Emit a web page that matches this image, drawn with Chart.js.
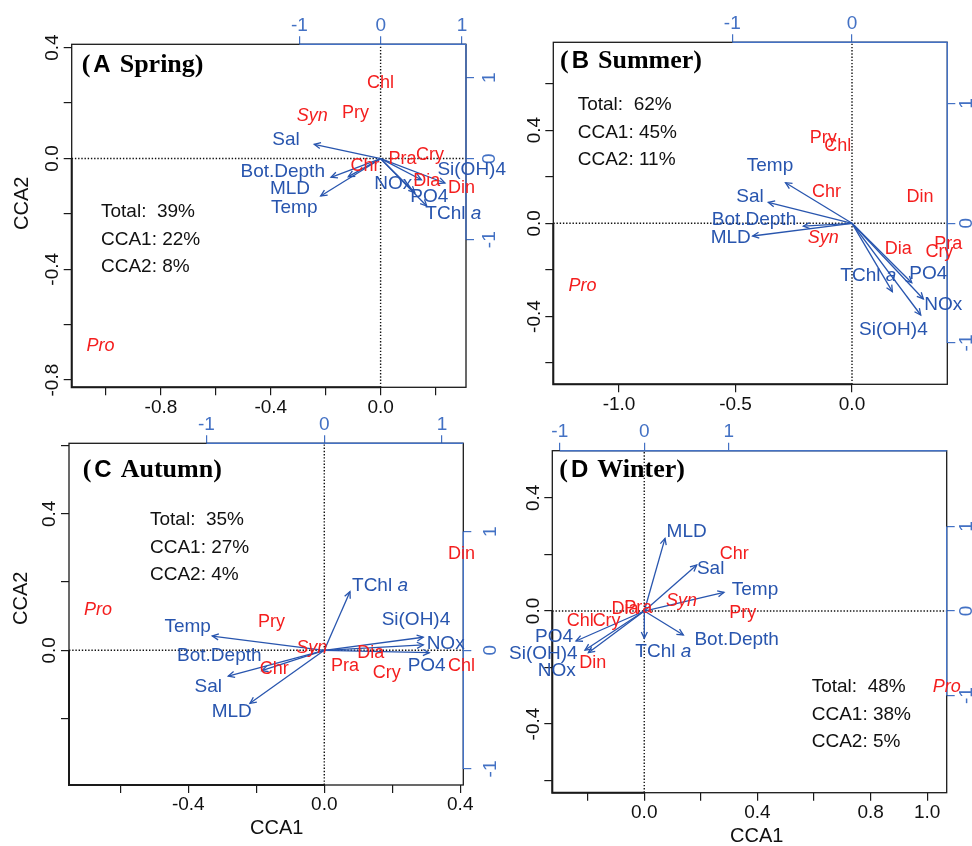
<!DOCTYPE html>
<html>
<head>
<meta charset="utf-8">
<title>CCA biplots by season</title>
<script src="https://cdn.jsdelivr.net/npm/chart.js@4.4.1/dist/chart.umd.min.js"></script>
<style>
  html, body { margin: 0; padding: 0; background: #fff; }
  body { position: relative; width: 972px; height: 846px; overflow: hidden; }
  canvas { position: absolute; }
</style>
</head>
<body>
<canvas id="spring"></canvas>
<canvas id="summer"></canvas>
<canvas id="autumn"></canvas>
<canvas id="winter"></canvas>
<script>
// CCA of phytoplankton groups vs environment, one biplot per season.
// Species scores use the bottom/left axes, env arrows use the blue top/right axes.

const species = ['Pro', 'Syn', 'Chl', 'Pry', 'Chr', 'Pra', 'Cry', 'Dia', 'Din'];
const italicSpecies = ['Pro', 'Syn'];
const envVars = ['Temp', 'Sal', 'Bot.Depth', 'MLD', 'NOx', 'PO4', 'Si(OH)4', 'TChl a'];
const statNames = ['Total:  ', 'CCA1: ', 'CCA2: '];

// ---- Spring ----
const springSpX = [-1.02, -0.249, 0.0, -0.091, -0.057, 0.080, 0.180, 0.168, 0.295];
const springSpY = [-0.676, 0.152, 0.272, 0.164, -0.026, -0.002, 0.013, -0.083, -0.107];
const springEnvX = [-0.738, -0.817, -0.611, -0.398, 0.50, 0.42, 0.79, 0.566];
const springEnvY = [-0.460, 0.178, -0.230, -0.222, -0.26, -0.42, -0.30, -0.584];
const springLabX = [-1.063, -1.165, -1.205, -1.116, 0.155, 0.598, 1.119, 0.893];
const springLabY = [-0.600, 0.231, -0.160, -0.366, -0.304, -0.469, -0.140, -0.674];
const springStats = [39, 22, 8];

// ---- Summer ----
const summerSpX = [-1.157, -0.123, -0.061, -0.123, -0.109, 0.413, 0.375, 0.199, 0.292];
const summerSpY = [-0.268, -0.062, 0.332, 0.367, 0.133, -0.090, -0.122, -0.112, 0.114];
const summerEnvX = [-0.555, -0.699, -0.406, -0.830, 0.596, 0.499, 0.574, 0.337];
const summerEnvY = [0.339, 0.175, -0.023, -0.106, -0.632, -0.496, -0.766, -0.571];
const summerLabX = [-0.685, -0.852, -0.819, -1.013, 0.763, 0.638, 0.346, 0.136];
const summerLabY = [0.481, 0.222, 0.033, -0.117, -0.683, -0.418, -0.891, -0.440];
const summerStats = [62, 45, 11];

// ---- Autumn ----
const autumnSpX = [-0.666, -0.037, 0.404, -0.155, -0.147, 0.061, 0.184, 0.137, 0.404];
const autumnSpY = [0.118, 0.008, -0.045, 0.082, -0.055, -0.046, -0.068, -0.009, 0.283];
const autumnEnvX = [-0.951, -0.815, -0.531, -0.631, 0.840, 0.891, 0.840, 0.218];
const autumnEnvY = [0.120, -0.217, -0.172, -0.447, 0.045, -0.020, 0.110, 0.494];
const autumnLabX = [-1.160, -0.985, -0.891, -0.786, 1.030, 0.869, 0.778, 0.473];
const autumnLabY = [0.199, -0.307, -0.048, -0.517, 0.059, -0.132, 0.255, 0.542];
const autumnStats = [35, 27, 4];

// ---- Winter ----
const winterSpX = [1.069, 0.132, -0.226, 0.348, 0.318, -0.021, -0.133, -0.068, -0.182];
const winterSpY = [-0.270, 0.036, -0.034, -0.006, 0.202, 0.010, -0.034, 0.007, -0.183];
const winterEnvX = [0.943, 0.620, 0.462, 0.245, -0.662, -0.808, -0.702, 0.0];
const winterEnvY = [0.221, 0.544, -0.284, 0.860, -0.493, -0.355, -0.462, -0.323];
const winterLabX = [1.310, 0.785, 1.093, 0.501, -1.037, -1.069, -1.195, 0.225];
const winterLabY = [0.249, 0.497, -0.343, 0.939, -0.710, -0.304, -0.501, -0.481];
const winterStats = [48, 38, 5];

// ---- ticks (all tick marks, then the ones that get a label) ----
const springTicksX = [-1.0, -0.8, -0.6, -0.4, -0.2, 0.0, 0.2];
const springTicksY = [-0.8, -0.6, -0.4, -0.2, 0.0, 0.2, 0.4];
const springLabelsX = [-0.8, -0.4, 0.0];
const springLabelsY = [-0.8, -0.4, 0.0, 0.4];
const summerTicksX = [-1.0, -0.5, 0.0];
const summerTicksY = [-0.6, -0.4, -0.2, 0.0, 0.2, 0.4, 0.6];
const summerLabelsX = [-1.0, -0.5, 0.0];
const summerLabelsY = [-0.4, 0.0, 0.4];
const autumnTicksX = [-0.6, -0.4, -0.2, 0.0, 0.2, 0.4];
const autumnTicksY = [-0.2, 0.0, 0.2, 0.4, 0.6];
const autumnLabelsX = [-0.4, 0.0, 0.4];
const autumnLabelsY = [0.0, 0.4];
const winterTicksX = [-0.2, 0.0, 0.2, 0.4, 0.6, 0.8, 1.0];
const winterTicksY = [-0.6, -0.4, -0.2, 0.0, 0.2, 0.4];
const winterLabelsX = [0.0, 0.4, 0.8, 1.0];
const winterLabelsY = [-0.4, 0.0, 0.4];
const arrowTicks = [-1, 0, 1];
const summerArrowTicksX = [-1, 0];

const RED = '#f41e1e';
const BLUE = '#2855ae';
const AXIS_BLUE = '#4371c4';
const SANS = '"Liberation Sans", Arial, sans-serif';
const SERIF = '"Liberation Serif", "Times New Roman", serif';

// page placement of each panel; area = plot frame in page pixels
const panels = [
    {
        id: 'spring', letter: 'A', season: 'Spring',
        origin: [0, 0], size: [540, 440], area: [71.7, 44.3, 466, 387.3],
        x: [-1.125, 0.311], y: [-0.826, 0.412], x2: [-3.80, 1.049], y2: [-2.822, 1.412],
        ticksX: springTicksX, ticksY: springTicksY, labelsX: springLabelsX, labelsY: springLabelsY,
        ticksX2: arrowTicks, ticksY2: arrowTicks, rightFromTick: false, rightGap: 24,
        spX: springSpX, spY: springSpY, envX: springEnvX, envY: springEnvY,
        labX: springLabX, labY: springLabY, stats: springStats,
        titlePos: [81.7, 72], statsPos: [101, 212], yTitle: [22.5, 203.3], xTitle: null
    },
    {
        id: 'summer', letter: 'B', season: 'Summer',
        origin: [480, 0], size: [492, 440], area: [553.3, 42.3, 947.3, 384.3],
        x: [-1.282, 0.409], y: [-0.691, 0.777], x2: [-2.495, 0.796], y2: [-1.345, 1.512],
        ticksX: summerTicksX, ticksY: summerTicksY, labelsX: summerLabelsX, labelsY: summerLabelsY,
        ticksX2: summerArrowTicksX, ticksY2: arrowTicks, rightFromTick: false, rightGap: 19.5,
        spX: summerSpX, spY: summerSpY, envX: summerEnvX, envY: summerEnvY,
        labX: summerLabX, labY: summerLabY, stats: summerStats,
        titlePos: [560, 68.3], statsPos: [577.7, 105], yTitle: null, xTitle: null
    },
    {
        id: 'autumn', letter: 'C', season: 'Autumn',
        origin: [0, 400], size: [540, 446], area: [69, 443.3, 463.3, 785],
        x: [-0.751, 0.409], y: [-0.395, 0.607], x2: [-2.167, 1.18], y2: [-1.135, 1.744],
        ticksX: autumnTicksX, ticksY: autumnTicksY, labelsX: autumnLabelsX, labelsY: autumnLabelsY,
        ticksX2: arrowTicks, ticksY2: arrowTicks, rightFromTick: true, rightGap: 27,
        spX: autumnSpX, spY: autumnSpY, envX: autumnEnvX, envY: autumnEnvY,
        labX: autumnLabX, labY: autumnLabY, stats: autumnStats,
        titlePos: [82.7, 476.7], statsPos: [150, 520], yTitle: [21, 598.3], xTitle: [276.7, 828.3]
    },
    {
        id: 'winter', letter: 'D', season: 'Winter',
        origin: [480, 400], size: [492, 446], area: [552.3, 450.7, 946.7, 792.7],
        x: [-0.325, 1.069], y: [-0.643, 0.567], x2: [-1.089, 3.579], y2: [-2.150, 1.897],
        ticksX: winterTicksX, ticksY: winterTicksY, labelsX: winterLabelsX, labelsY: winterLabelsY,
        ticksX2: arrowTicks, ticksY2: arrowTicks, rightFromTick: true, rightGap: 20,
        spX: winterSpX, spY: winterSpY, envX: winterEnvX, envY: winterEnvY,
        labX: winterLabX, labY: winterLabY, stats: winterStats,
        titlePos: [559.3, 476.7], statsPos: [811.7, 686.7], yTitle: null, xTitle: [756.7, 836.7]
    }
];
const panelById = {};
panels.forEach(p => { panelById[p.id] = p; });

function rotText(ctx, txt, x, y) {
    ctx.save();
    ctx.translate(x, y);
    ctx.rotate(-Math.PI / 2);
    ctx.fillText(txt, 0, 0);
    ctx.restore();
}

function drawHead(ctx, x0, y0, x1, y1) {
    const ang = Math.atan2(y1 - y0, x1 - x0);
    const len = 7, spread = Math.PI / 7;
    ctx.beginPath();
    ctx.moveTo(x1 - len * Math.cos(ang - spread), y1 - len * Math.sin(ang - spread));
    ctx.lineTo(x1, y1);
    ctx.lineTo(x1 - len * Math.cos(ang + spread), y1 - len * Math.sin(ang + spread));
    ctx.stroke();
}

// frame, axis labels, text annotations and arrowheads
const biplotPlugin = {
    id: 'biplot',
    afterDatasetsDraw(chart) {
        const p = panelById[chart.canvas.id];
        const ctx = chart.ctx;
        const a = chart.chartArea;
        const { x: sx, y: sy, x2: sx2, y2: sy2 } = chart.scales;
        const ox = p.origin[0], oy = p.origin[1];
        ctx.save();
        ctx.setLineDash([]);

        // arrowheads
        ctx.strokeStyle = BLUE;
        ctx.lineWidth = 1.3;
        chart.data.datasets.forEach((ds, i) => {
            if (ds.kind !== 'arrow') return;
            const pts = chart.getDatasetMeta(i).data;
            drawHead(ctx, pts[0].x, pts[0].y, pts[1].x, pts[1].y);
        });

        // frame, a bit heavier along the lower-left quadrant
        ctx.strokeStyle = '#1a1a1a';
        ctx.lineWidth = 1.3;
        ctx.strokeRect(a.left, a.top, a.right - a.left, a.bottom - a.top);
        const x0 = sx.getPixelForValue(0), y0 = sy.getPixelForValue(0);
        ctx.lineWidth = 2;
        ctx.beginPath();
        ctx.moveTo(a.left, y0);
        ctx.lineTo(a.left, a.bottom);
        ctx.lineTo(x0, a.bottom);
        ctx.stroke();

        // blue axis lines for the arrow scale
        ctx.strokeStyle = AXIS_BLUE;
        ctx.lineWidth = 1.4;
        ctx.beginPath();
        ctx.moveTo(sx2.getPixelForValue(p.ticksX2[0]), a.top);
        ctx.lineTo(a.right, a.top);
        ctx.moveTo(a.right, p.rightFromTick ? sy2.getPixelForValue(p.ticksY2[p.ticksY2.length - 1]) : a.top);
        ctx.lineTo(a.right, sy2.getPixelForValue(p.ticksY2[0]));
        ctx.stroke();

        // tick labels
        ctx.font = `19px ${SANS}`;
        ctx.textAlign = 'center';
        ctx.textBaseline = 'middle';
        ctx.fillStyle = '#111';
        p.labelsX.forEach(v => ctx.fillText(v.toFixed(1), sx.getPixelForValue(v), a.bottom + 20));
        p.labelsY.forEach(v => rotText(ctx, v.toFixed(1), a.left - 19, sy.getPixelForValue(v)));
        ctx.fillStyle = AXIS_BLUE;
        p.ticksX2.forEach(v => ctx.fillText(String(v), sx2.getPixelForValue(v), a.top - 19));
        p.ticksY2.forEach(v => rotText(ctx, String(v), a.right + p.rightGap, sy2.getPixelForValue(v)));

        // axis titles
        ctx.fillStyle = '#111';
        ctx.font = `20px ${SANS}`;
        if (p.yTitle) rotText(ctx, 'CCA2', p.yTitle[0] - ox, p.yTitle[1] - oy);
        if (p.xTitle) ctx.fillText('CCA1', p.xTitle[0] - ox, p.xTitle[1] - oy);

        // panel title, e.g. "(A Spring)"
        let tx = p.titlePos[0] - ox;
        const ty = p.titlePos[1] - oy;
        ctx.textAlign = 'left';
        ctx.textBaseline = 'alphabetic';
        ctx.fillStyle = '#000';
        ctx.font = `bold 26px ${SERIF}`;
        ctx.fillText('(', tx, ty);
        tx += ctx.measureText('(').width + 3;
        ctx.font = `bold 24px ${SANS}`;
        ctx.fillText(p.letter, tx, ty);
        tx += ctx.measureText(p.letter).width + 9;
        ctx.font = `bold 26px ${SERIF}`;
        ctx.fillText(p.season + ')', tx, ty);

        // explained variance
        ctx.font = `19px ${SANS}`;
        ctx.textBaseline = 'middle';
        ctx.fillStyle = '#111';
        p.stats.forEach((v, k) => {
            ctx.fillText(`${statNames[k]}${v}%`, p.statsPos[0] - ox, p.statsPos[1] - oy + k * 27.6);
        });

        // species and environmental labels
        ctx.textAlign = 'center';
        chart.data.datasets.forEach((ds, i) => {
            if (ds.kind !== 'species' && ds.kind !== 'envLabel') return;
            const pts = chart.getDatasetMeta(i).data;
            pts.forEach((pt, j) => {
                const name = ds.labels[j];
                if (ds.kind === 'species') {
                    ctx.fillStyle = RED;
                    ctx.font = (italicSpecies.includes(name) ? 'italic ' : '') + `18px ${SANS}`;
                    ctx.fillText(name, pt.x, pt.y);
                } else {
                    ctx.fillStyle = BLUE;
                    if (name === 'TChl a') {
                        ctx.font = `19px ${SANS}`;
                        const w1 = ctx.measureText('TChl ').width;
                        ctx.font = `italic 19px ${SANS}`;
                        const w2 = ctx.measureText('a').width;
                        const left = pt.x - (w1 + w2) / 2;
                        ctx.textAlign = 'left';
                        ctx.font = `19px ${SANS}`;
                        ctx.fillText('TChl ', left, pt.y);
                        ctx.font = `italic 19px ${SANS}`;
                        ctx.fillText('a', left + w1, pt.y);
                        ctx.textAlign = 'center';
                    } else {
                        ctx.font = `19px ${SANS}`;
                        ctx.fillText(name, pt.x, pt.y);
                    }
                }
            });
        });
        ctx.restore();
    }
};

function makeScale(position, range, ticks, color, horizontal) {
    return {
        type: 'linear',
        position: position,
        min: range[0],
        max: range[1],
        bounds: 'data',
        grid: { display: true, drawOnChartArea: false, drawTicks: true, tickLength: 8, color: color, lineWidth: 1.2 },
        border: { display: false },
        ticks: { display: false },
        afterBuildTicks: s => { s.ticks = ticks.map(v => ({ value: v })); },
        afterFit: s => { if (horizontal) s.height = 0; else s.width = 0; }
    };
}

function buildDatasets(p) {
    const sets = [];
    sets.push({
        kind: 'species', labels: species,
        data: p.spX.map((x, i) => ({ x: x, y: p.spY[i] })),
        xAxisID: 'x', yAxisID: 'y', pointRadius: 0
    });
    sets.push({
        kind: 'envLabel', labels: envVars,
        data: p.labX.map((x, i) => ({ x: x, y: p.labY[i] })),
        xAxisID: 'x2', yAxisID: 'y2', pointRadius: 0
    });
    envVars.forEach((name, i) => {
        sets.push({
            kind: 'arrow', label: name,
            data: [{ x: 0, y: 0 }, { x: p.envX[i], y: p.envY[i] }],
            xAxisID: 'x2', yAxisID: 'y2', showLine: true,
            borderColor: BLUE, borderWidth: 1.3, pointRadius: 0, clip: false
        });
    });
    // dotted lines through the origin
    sets.push({
        kind: 'zero', data: [{ x: p.x[0], y: 0 }, { x: p.x[1], y: 0 }],
        xAxisID: 'x', yAxisID: 'y', showLine: true,
        borderColor: '#111', borderWidth: 1.4, borderDash: [1.4, 1.8], pointRadius: 0
    });
    sets.push({
        kind: 'zero', data: [{ x: 0, y: p.y[0] }, { x: 0, y: p.y[1] }],
        xAxisID: 'x', yAxisID: 'y', showLine: true,
        borderColor: '#111', borderWidth: 1.4, borderDash: [1.4, 1.8], pointRadius: 0
    });
    return sets;
}

panels.forEach(p => {
    const canvas = document.getElementById(p.id);
    canvas.width = p.size[0];
    canvas.height = p.size[1];
    canvas.style.left = p.origin[0] + 'px';
    canvas.style.top = p.origin[1] + 'px';
    canvas.style.width = p.size[0] + 'px';
    canvas.style.height = p.size[1] + 'px';

    const pad = {
        left: p.area[0] - p.origin[0],
        top: p.area[1] - p.origin[1],
        right: p.origin[0] + p.size[0] - p.area[2],
        bottom: p.origin[1] + p.size[1] - p.area[3]
    };

    new Chart(canvas.getContext('2d'), {
        type: 'scatter',
        data: { datasets: buildDatasets(p) },
        options: {
            responsive: false,
            animation: false,
            devicePixelRatio: 1,
            events: [],
            layout: { padding: pad, autoPadding: false },
            plugins: { legend: { display: false }, tooltip: { enabled: false } },
            scales: {
                x: makeScale('bottom', p.x, p.ticksX, '#1a1a1a', true),
                y: makeScale('left', p.y, p.ticksY, '#1a1a1a', false),
                x2: makeScale('top', p.x2, p.ticksX2, AXIS_BLUE, true),
                y2: makeScale('right', p.y2, p.ticksY2, AXIS_BLUE, false)
            }
        },
        plugins: [biplotPlugin]
    });
});
</script>
</body>
</html>
